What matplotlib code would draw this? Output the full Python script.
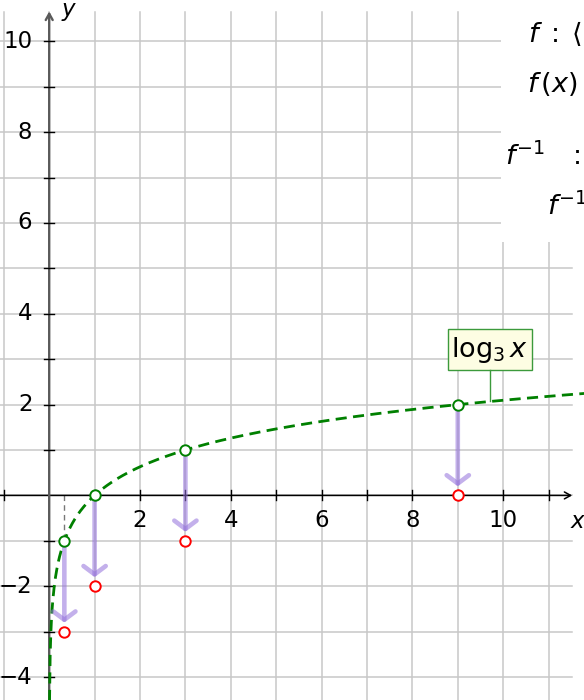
import numpy as np
import matplotlib
matplotlib.use("Agg")
import matplotlib.pyplot as plt
from matplotlib.patches import Rectangle

plt.rcParams["mathtext.fontset"] = "dejavusans"
plt.rcParams["font.family"] = ["DejaVu Sans"]

# data
green_x = [1/3, 1, 3, 9]              # points on y = log_3 x
green_y = [-1, 0, 1, 2]
shift = -2                            # red points = green points shifted down
red_x = green_x
red_y = [g + shift for g in green_y]
xticks = [2, 4, 6, 8, 10]
yticks = [-4, -2, 2, 4, 6, 8, 10]

GRID = "#c8c8c8"
GREEN = "#008000"
PURPLE = "#9370DB"
FS = 16.5
FS_MATH = 19.5

fig = plt.figure(figsize=(5.84, 7.0), dpi=100)
ax = fig.add_axes([0, 0, 1, 1])
ax.set_xlim(-1.084, 11.78)
ax.set_ylim(-4.505, 10.91)
ax.axis("off")

# grid
for gx in range(-1, 12):
    ax.plot([gx, gx], [-4.6, 10.65], color=GRID, lw=1.1, zorder=1)
for gy in range(-4, 11):
    ax.plot([-1.2, 11.52], [gy, gy], color=GRID, lw=1.1, zorder=1)

# axes with arrows
ax.annotate("", xy=(11.52, 0), xytext=(-1.2, 0),
            arrowprops=dict(arrowstyle="->,head_length=0.45,head_width=0.25",
                            lw=1.1, color="black", shrinkA=0, shrinkB=0), zorder=3)
ax.annotate("", xy=(0, 10.66), xytext=(0, -4.6),
            arrowprops=dict(arrowstyle="->,head_length=0.45,head_width=0.25",
                            lw=1.7, color="#5a5a5a", shrinkA=0, shrinkB=0), zorder=3)
for t in range(-1, 12):
    if t != 0:
        ax.plot([t, t], [-0.11, 0.11], color="black", lw=1.0, zorder=3)
for t in range(-4, 11):
    if t != 0:
        ax.plot([-0.11, 0.11], [t, t], color="black", lw=1.0, zorder=3)
for t in xticks:
    ax.text(t, -0.3, str(t), ha="center", va="top", fontsize=FS, zorder=4)
for t in yticks:
    ax.text(-0.37, t, str(t).replace("-", "\u2212"), ha="right", va="center",
            fontsize=FS, zorder=4)
ax.text(0.27, 10.66, "$y$", fontsize=FS, ha="left", va="center")
ax.text(11.47, -0.57, "$x$", fontsize=FS, ha="left", va="center")

# dashed helper line at x = 1/3
ax.plot([1/3, 1/3], [0, -1], color="#777777", lw=1.0, ls=(0, (4, 3)), zorder=2)

# curve
xs = np.linspace(3 ** -4.6, 11.8, 800)
ax.plot(xs, np.log(xs) / np.log(3), color=GREEN, lw=2.0, ls=(0, (4, 2.3)), zorder=4)

# shift arrows
for gx, gy, ry in zip(green_x, green_y, red_y):
    ax.annotate("", xy=(gx, ry), xytext=(gx, gy),
                arrowprops=dict(arrowstyle="->,head_length=0.6,head_width=0.8",
                                lw=3.3, color=PURPLE, alpha=0.55,
                                shrinkA=3, shrinkB=6.5), zorder=5)

ax.plot(green_x, green_y, "o", ms=7.5, mfc="white", mec=GREEN, mew=1.4, zorder=6)
ax.plot(red_x, red_y, "o", ms=7.5, mfc="white", mec="red", mew=1.4, zorder=6)

# curve label
ax.add_patch(Rectangle((8.78, 2.76), 1.85, 0.91, fc="#fdfde3", ec="#3c9a3c",
                       lw=1.0, zorder=7))
ax.plot([9.71, 9.71], [2.76, np.log(9.71) / np.log(3)], color="#3c9a3c",
        lw=1.0, zorder=7)
ax.text(9.71, 3.2, r"$\log_3 x$", ha="center", va="center", fontsize=FS_MATH,
        zorder=8)

# definition box (partly off the right edge)
ax.add_patch(Rectangle((9.95, 5.58), 3.0, 6.0, fc="white", ec="none", zorder=7))
ax.text(10.55, 9.99, r"$f\;:\;\langle 0,+\infty\rangle\to\mathbb{R}$",
        fontsize=FS_MATH, va="baseline", zorder=8)
ax.text(10.52, 8.89, r"$f\,(x)=\log_3 x$", fontsize=FS_MATH, va="baseline", zorder=8)
ax.text(10.04, 7.28, r"$f^{-1}\;\;\;:\;\mathbb{R}\to\langle 0,+\infty\rangle$",
        fontsize=FS_MATH, va="baseline", zorder=8)
ax.text(10.96, 6.18, r"$f^{-1}(x)=3^x$", fontsize=FS_MATH, va="baseline", zorder=8)

fig.savefig("out.png", dpi=100)
